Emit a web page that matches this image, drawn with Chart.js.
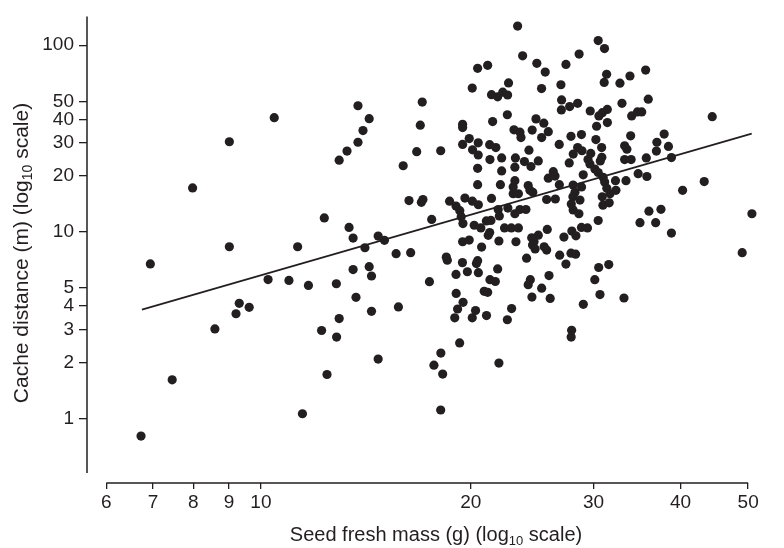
<!DOCTYPE html>
<html>
<head>
<meta charset="utf-8">
<script src="https://cdn.jsdelivr.net/npm/chart.js@4.4.0/dist/chart.umd.min.js"></script>
<style>
html,body{margin:0;padding:0;background:#fff;}
#wrap{width:784px;height:548px;position:relative;}
canvas{display:block;}
</style>
</head>
<body>
<div id="wrap"><canvas id="c" width="784" height="548"></canvas></div>
<script>
// ---- data (seed fresh mass in g, cache distance in m) ----
const seedMass = [
6.73,6.94,7.46,7.98,8.59,9.01,9.01,9.21,9.31,9.62,
10.24,10.45,10.97,11.29,11.47,11.70,12.22,12.33,12.44,12.83,
12.84,12.95,12.95,13.29,13.38,13.56,13.56,13.69,13.78,13.78,
14.01,14.10,14.30,14.30,14.41,14.41,14.73,14.73,15.04,15.63,
15.75,16.00,16.31,16.40,16.73,16.93,17.04,16.99,17.08,17.45,
17.58,17.71,18.11,18.11,18.12,18.23,18.45,18.51,18.65,19.05,
19.29,19.38,19.49,19.47,19.47,19.47,19.47,19.46,19.50,19.05,
19.06,19.15,18.97,19.28,19.62,19.78,19.90,19.90,20.10,20.12,
20.11,20.10,20.23,20.32,20.46,20.46,20.46,20.46,20.38,20.51,
20.50,20.50,20.51,20.68,20.73,20.91,21.15,21.07,21.06,21.38,
21.15,21.29,21.19,21.29,21.31,21.31,21.42,21.42,21.50,21.69,
21.73,21.86,21.86,21.90,21.98,21.95,21.95,22.06,22.15,22.15,
22.23,22.36,22.57,22.59,22.66,22.57,22.87,22.89,23.01,23.07,
23.14,23.18,23.14,23.01,22.61,23.14,23.53,24.00,23.22,23.41,
23.41,23.53,23.61,23.74,23.35,23.88,24.05,24.18,24.32,24.24,
24.40,24.50,24.55,24.35,24.18,24.48,24.46,24.65,24.53,24.74,
24.81,24.88,25.00,25.00,25.27,25.28,25.28,25.46,25.49,25.70,
25.58,25.70,25.75,25.84,25.84,25.90,26.00,26.27,26.42,26.45,
26.79,26.80,26.83,26.94,27.00,26.98,27.21,27.39,27.39,27.69,
27.73,27.85,27.85,27.93,28.06,28.05,28.22,28.03,27.88,28.05,
28.59,28.69,28.31,28.28,28.47,28.47,28.61,28.83,28.84,28.83,
28.88,29.00,29.01,29.41,29.46,29.65,29.68,29.73,30.13,30.14,
30.24,30.31,30.47,30.47,30.47,30.52,30.54,30.68,30.65,30.82,
30.84,30.88,30.95,30.97,31.11,31.08,31.33,31.13,31.35,30.89,
31.40,31.41,31.68,31.60,31.55,32.26,32.31,32.74,32.96,33.18,
33.25,33.25,33.40,33.50,33.84,33.92,33.97,34.03,34.69,35.18,
34.77,34.98,35.64,35.72,35.79,35.95,36.03,36.93,36.84,36.99,
37.49,37.89,38.43,38.81,38.81,44.41,43.25,40.27,50.63,49.03,
27.91,27.87
];
const cacheDistance = [
0.805,6.73,1.61,17.2,3.02,30.4,8.32,3.64,4.14,3.94,
5.55,40.9,5.49,8.32,1.06,5.16,2.96,11.87,1.72,5.27,
2.73,3.43,24.2,27.1,10.56,6.28,9.26,4.46,47.4,30.2,
34.9,8.22,40.4,6.51,5.80,3.75,9.49,2.08,9.01,7.64,
3.96,22.6,14.7,7.73,26.9,37.3,49.6,14.4,14.9,5.41,
11.65,1.93,27.2,1.11,2.24,1.73,7.32,7.05,14.6,13.75,
12.98,12.06,11.07,37.7,36.2,29.4,8.85,6.84,4.19,5.91,
4.68,3.86,3.46,2.54,15.17,6.11,31.6,9.03,58.9,27.5,
14.6,3.46,10.85,3.79,75.2,21.9,17.9,7.01,6.76,6.04,
30.0,25.8,13.97,10.50,8.29,4.80,4.74,3.56,11.44,11.51,
78.0,9.92,9.58,29.3,24.4,5.54,54.3,15.1,39.0,5.42,
28.3,52.9,6.33,13.17,12.17,8.93,1.98,17.9,24.9,21.2,
56.0,10.5,42.4,54.1,62.8,3.38,10.5,3.88,16.0,35.2,
22.2,24.9,18.8,17.4,13.4,12.5,13.17,13.17,8.85,10.5,
16.0,34.2,32.0,87.7,126.7,23.8,7.23,17.7,16.7,27.4,
22.4,35.1,16.3,5.54,5.21,4.47,9.29,8.85,8.50,8.10,
40.3,80.0,24.0,9.60,58.6,32.0,4.99,38.2,8.32,7.99,
71.8,14.9,10.3,19.4,34.4,5.83,4.40,21.0,19.9,15.0,
29.4,17.9,7.50,61.4,50.9,45.0,9.38,78.9,6.72,23.4,
46.9,32.5,7.69,10.1,26.1,17.8,16.3,15.4,14.1,13.1,
12.5,14.8,9.52,7.59,28.3,48.8,89.6,33.2,17.4,10.56,
27.2,20.2,4.09,10.5,24.4,23.1,44.4,26.3,5.54,21.7,
31.2,36.8,20.8,11.5,105.9,6.44,41.8,24.0,4.61,28.3,
25.1,15.4,13.9,19.6,96.0,63.2,69.9,18.5,17.1,43.5,
45.3,38.5,16.0,14.3,6.68,18.8,16.7,62.6,48.8,4.42,
28.9,24.4,18.8,27.7,68.4,32.7,24.4,41.8,43.9,43.9,
20.5,11.2,73.6,24.9,19.8,51.4,12.9,27.1,11.2,30.2,
13.2,33.4,28.7,25.0,9.85,41.4,18.6,16.7,12.5,7.73,
2.97,2.73
];
// regression line end points
const fitMass = [6.75, 50.6];
const fitDistance = [3.83, 33.6];
// tick labels
const xTickValues = [6, 7, 8, 9, 10, 20, 30, 40, 50];
const yTickValues = [1, 2, 3, 4, 5, 10, 20, 30, 40, 50, 100];
const xTitleParts = [{text:'Seed fresh mass (g) (log'}, {text:'10', sub:true}, {text:' scale)'}];
const yTitleParts = [{text:'Cache distance (m) (log'}, {text:'10', sub:true}, {text:' scale)'}];

// ---- style ----
const INK = '#231f20';
const FONT = '"Liberation Sans", Arial, Helvetica, sans-serif';
const TICK_SIZE = 19;

function drawTitle(ctx, parts, cx, cy, rot, size, subSize) {
  ctx.save();
  ctx.translate(cx, cy);
  if (rot) ctx.rotate(rot);
  ctx.fillStyle = INK;
  ctx.textAlign = 'left';
  ctx.textBaseline = 'alphabetic';
  let w = 0;
  parts.forEach(p => { ctx.font = (p.sub ? subSize : size) + 'px ' + FONT; w += ctx.measureText(p.text).width; });
  let xx = -w / 2;
  parts.forEach(p => {
    ctx.font = (p.sub ? subSize : size) + 'px ' + FONT;
    ctx.fillText(p.text, xx, p.sub ? 4 : 0);
    xx += ctx.measureText(p.text).width;
  });
  ctx.restore();
}

const axesPlugin = {
  id: 'axesPlugin',
  afterDraw(chart) {
    const ctx = chart.ctx, a = chart.chartArea, xs = chart.scales.x;
    ctx.save();
    ctx.strokeStyle = INK;
    ctx.lineWidth = 1.5;
    ctx.beginPath();
    ctx.moveTo(a.left, a.top);
    ctx.lineTo(a.left, a.bottom - 10);
    ctx.moveTo(xs.getPixelForValue(xTickValues[0]), a.bottom);
    ctx.lineTo(xs.getPixelForValue(xTickValues[xTickValues.length - 1]), a.bottom);
    ctx.stroke();
    ctx.restore();
    drawTitle(ctx, xTitleParts, 436, 541, 0, 20, 13);
    drawTitle(ctx, yTitleParts, 28, 253, -Math.PI / 2, 21, 14);
  }
};

const points = seedMass.map((m, i) => ({x: m, y: cacheDistance[i]}));
const fitLine = fitMass.map((m, i) => ({x: m, y: fitDistance[i]}));

new Chart(document.getElementById('c'), {
  type: 'scatter',
  data: {
    datasets: [
      {
        label: 'Caches',
        data: points,
        pointRadius: 4.6,
        pointHoverRadius: 4.6,
        pointBackgroundColor: INK,
        pointBorderWidth: 0,
        backgroundColor: INK,
        borderColor: INK,
        order: 2
      },
      {
        label: 'Regression',
        type: 'line',
        data: fitLine,
        showLine: true,
        pointRadius: 0,
        borderColor: INK,
        borderWidth: 1.6,
        fill: false,
        order: 1
      }
    ]
  },
  options: {
    responsive: false,
    animation: false,
    devicePixelRatio: 1,
    layout: {padding: {top: 13, right: 24, left: 0, bottom: 0}},
    plugins: {legend: {display: false}, tooltip: {enabled: false}},
    scales: {
      x: {
        type: 'logarithmic',
        min: 5.63,
        max: 52,
        afterBuildTicks: s => { s.ticks = xTickValues.map(v => ({value: v})); },
        afterFit: s => { s.height = 65; },
        ticks: {
          autoSkip: false, maxRotation: 0, minRotation: 0,
          padding: 2, color: INK,
          font: {family: FONT, size: TICK_SIZE},
          callback: v => String(v)
        },
        grid: {drawOnChartArea: false, drawTicks: true, tickLength: 6, color: INK, lineWidth: 1.3},
        border: {display: false}
      },
      y: {
        type: 'logarithmic',
        min: 0.451,
        max: 142.7,
        afterBuildTicks: s => { s.ticks = yTickValues.map(v => ({value: v})); },
        afterFit: s => { s.width = 87; },
        ticks: {
          autoSkip: false,
          padding: 5, color: INK,
          font: {family: FONT, size: TICK_SIZE},
          callback: v => String(v)
        },
        grid: {drawOnChartArea: false, drawTicks: true, tickLength: 8, color: INK, lineWidth: 1.3},
        border: {display: false}
      }
    }
  },
  plugins: [axesPlugin]
});
</script>
</body>
</html>
